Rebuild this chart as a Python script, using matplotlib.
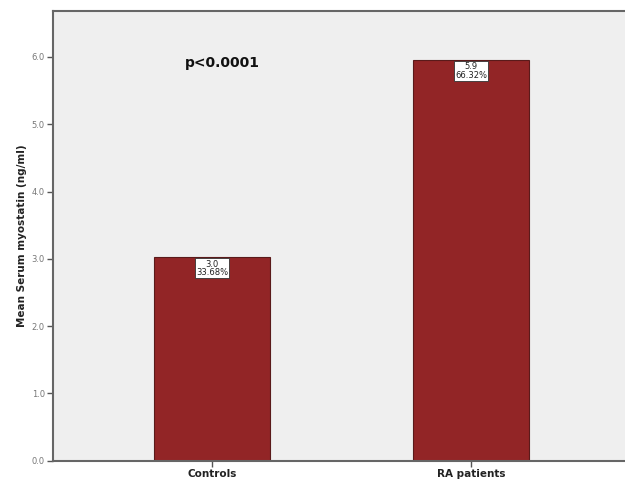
import matplotlib.pyplot as plt
import numpy as np

# data
groups = ['Controls', 'RA patients']
means = [3.02, 5.95]
labels = ['3.0\n33.68%', '5.9\n66.32%']
yticks = [0.0, 1.0, 2.0, 3.0, 4.0, 5.0, 6.0]

fig = plt.figure(figsize=(6.25, 4.84), dpi=100)
ax = fig.add_axes([0.085, 0.048, 0.915, 0.929])
ax.set_facecolor('#efefef')

x = np.arange(len(groups))
ax.bar(x, means, width=0.45, color='#922526', edgecolor='#5a1a1a', linewidth=0.8, zorder=2)

# value boxes just under the bar tops
for xi, m, lab in zip(x, means, labels):
    ax.text(xi, m - 0.03, lab, ha='center', va='top', fontsize=6, color='#222222',
            linespacing=0.95, zorder=3,
            bbox=dict(boxstyle='square,pad=0.15', facecolor='white', edgecolor='#333333', linewidth=0.6))

ax.text(0.04, 5.91, 'p<0.0001', ha='center', va='center', fontsize=10, fontweight='bold', color='#111111')

ax.set_xlim(-0.614, 1.595)
ax.set_ylim(0, 6.68)
ax.set_xticks(x)
ax.set_xticklabels(groups, fontsize=7.5, fontweight='bold', color='#222222')
ax.set_yticks(yticks)
ax.set_yticklabels([f'{v:.1f}' for v in yticks], fontsize=6, color='#777777')
ax.set_ylabel('Mean Serum myostatin (ng/ml)', fontsize=7.5, fontweight='bold', color='#222222', labelpad=3)
ax.tick_params(axis='both', length=4, width=1, color='#555555', pad=2)

for side in ['left', 'top', 'bottom']:
    ax.spines[side].set_color('#666666')
    ax.spines[side].set_linewidth(1.5)
ax.spines['right'].set_visible(False)

plt.savefig('out.png', dpi=100)
